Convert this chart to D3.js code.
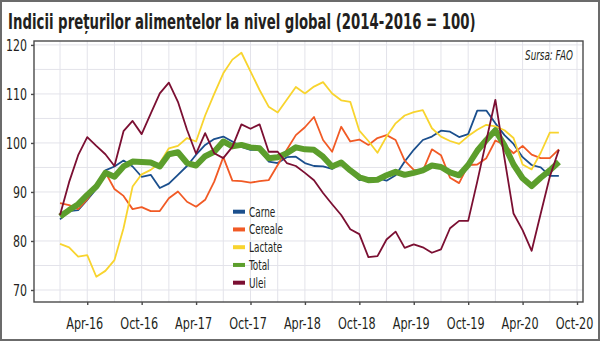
<!DOCTYPE html>
<html><head><meta charset="utf-8">
<script src="https://cdn.jsdelivr.net/npm/d3@7"></script>
<style>
html,body{margin:0;padding:0;background:#fff;}
svg{display:block;}
text{font-family:"Liberation Sans Narrow","DejaVu Sans Condensed","DejaVu Sans",sans-serif;fill:#231f20;}
</style></head>
<body>
<svg id="c" width="600" height="341"></svg>
<script>
// ---- data (monthly, Jan-16 .. Aug-20) ----
const seriesNames = ["Carne","Cereale","Lactate","Total","Ulei"];
const carne = [84.4,86.1,86.3,88.4,90.6,94.4,95.2,96.4,95.2,93.1,93.5,90.8,91.7,93.5,95.3,97.6,99.6,100.8,101.3,100.3,99.2,98.6,98.6,96.2,95.9,97.1,97.2,95.9,95.3,95.2,94.7,96.0,94.5,92.4,92.8,92.8,92.3,93.4,96.2,98.6,100.6,101.3,102.5,102.3,101.2,101.8,106.6,106.6,104.0,101.6,99.8,97.1,95.5,95.0,93.3,93.3];
const cereale = [87.7,87.3,86.5,88.5,91.0,94.0,90.6,89.2,86.5,86.9,86.1,86.1,88.7,90.1,88.0,87.0,88.4,92.1,97.1,92.3,92.2,91.9,92.2,92.4,95.5,98.6,101.6,103.2,105.3,100.6,98.2,103.3,100.3,100.7,99.6,101.0,101.6,100.6,96.4,94.5,94.3,98.7,97.5,92.9,91.8,95.5,95.6,96.9,100.5,99.6,97.9,99.4,97.6,96.9,96.9,98.7];
const lactate = [79.4,78.7,76.8,77.1,72.7,73.9,76.1,82.6,91.1,93.6,94.5,95.9,98.9,99.4,101.0,100.3,105.6,110.0,114.2,117.0,118.4,114.6,110.8,107.4,106.2,108.8,111.4,110.1,111.5,112.4,110.1,108.7,108.4,102.5,100.4,98.0,101.3,104.0,105.6,106.3,106.7,103.0,101.3,100.4,99.8,101.4,102.7,103.7,103.4,102.6,101.0,95.6,94.6,98.0,102.1,102.1];
const total = [85.0,86.3,87.5,89.4,91.1,93.9,93.1,95.2,96.2,96.1,96.0,95.2,97.7,98.1,95.9,95.4,97.3,98.2,100.3,99.3,99.6,99.1,98.9,96.9,97.1,97.9,99.1,98.7,98.6,97.2,95.2,96.0,94.4,93.0,92.4,92.5,93.4,94.1,93.5,93.9,94.4,95.4,95.1,94.0,93.4,95.5,98.4,100.6,102.6,99.5,95.6,92.8,91.2,92.9,94.4,96.1];
const ulei = [85.3,92.0,97.5,101.2,99.4,97.7,95.3,102.4,104.5,101.8,106.0,110.1,112.3,108.4,102.7,97.8,102.0,97.9,96.9,99.2,103.8,102.9,103.8,98.2,98.2,95.9,95.3,93.9,92.4,89.8,87.5,85.3,82.4,81.4,76.7,76.9,80.3,81.9,78.6,79.3,78.7,77.6,78.3,82.6,84.1,84.1,92.1,100.5,108.8,96.9,85.6,82.2,78.0,85.6,93.1,98.6];
const xTickLabels = ["Apr-16","Oct-16","Apr-17","Oct-17","Apr-18","Oct-18","Apr-19","Oct-19","Apr-20","Oct-20"];
const yTickValues = [70,80,90,100,110,120];
const title = "Indicii prețurilor alimentelor la nivel global (2014-2016 = 100)";
const source = "Sursa: FAO";

const colors = {Carne:"#1b4f8d",Cereale:"#f15a25",Lactate:"#f8d42e",Total:"#5c9e2c",Ulei:"#7b0f32"};
const widths = {Carne:1.8,Cereale:1.8,Lactate:1.8,Total:6,Ulei:1.8};
const dataBy = {Carne:carne,Cereale:cereale,Lactate:lactate,Total:total,Ulei:ulei};

const svg = d3.select("#c");
const L=34,R=583,T=41,B=302;
// month index 0 = Jan-16
const x = d3.scaleLinear().domain([-2.87,57.66]).range([L,R]);
const y = d3.scaleLinear().domain([67.55,120.8]).range([B,T]);

// horizontally condense a text selection to a target width (anchor kept)
function squeezeTo(sel, targetW){
  const w = sel.node().getComputedTextLength();
  const f = Math.min(1, targetW / w);
  squeeze(sel, f);
  return f;
}
function squeeze(sel, f){
  sel.each(function(){
    const t = d3.select(this);
    const x0 = +t.attr("x") || 0;
    t.attr("transform", `translate(${x0*(1-f)},0) scale(${f},1)`);
  });
}

// outer frame
svg.append("rect").attr("x",1).attr("y",1).attr("width",598).attr("height",339)
  .attr("fill","#fff").attr("stroke","#6b6b6b").attr("stroke-width",2);

// title
const tt = svg.append("text").attr("x",8).attr("y",29).attr("font-size",22).attr("font-weight","bold").text(title);
squeezeTo(tt, 468);

// grid
const g = svg.append("g");
g.selectAll(".vg").data(d3.range(0,58,3)).join("line")
  .attr("x1",d=>x(d)).attr("x2",d=>x(d)).attr("y1",T).attr("y2",B)
  .attr("stroke","#e3e3ea").attr("stroke-width",1);
g.selectAll(".hg").data(d3.range(70,121,5)).join("line")
  .attr("x1",L).attr("x2",R).attr("y1",d=>y(d)).attr("y2",d=>y(d))
  .attr("stroke","#e3e3ea").attr("stroke-width",1);

// lines
const line = d3.line().x((d,i)=>x(i)).y(d=>y(d)).curve(d3.curveLinear);
seriesNames.forEach(n=>{
  svg.append("path").datum(dataBy[n]).attr("d",line)
    .attr("fill","none").attr("stroke",colors[n]).attr("stroke-width",widths[n])
    .attr("stroke-linejoin","round").attr("stroke-linecap","butt");
});

// plot border
svg.append("rect").attr("x",L).attr("y",T).attr("width",R-L).attr("height",B-T)
  .attr("fill","none").attr("stroke","#4a4a4a").attr("stroke-width",1.4);

// axes
const yAx = svg.append("g").attr("transform",`translate(${L},0)`)
  .call(d3.axisLeft(y).tickValues(yTickValues).tickSize(3).tickPadding(4).tickFormat(d3.format("d")));
yAx.select(".domain").remove();
yAx.selectAll("line").attr("stroke","#4a4a4a").attr("stroke-width",1.4);
yAx.attr("font-family",null).attr("font-size",null);
const yTxt = yAx.selectAll("text").attr("font-size",16).attr("fill","#231f20");
squeeze(yTxt, 21/ yAx.selectAll("text").filter(d=>d===120).node().getComputedTextLength());

const xTickIdx = xTickLabels.map((d,k)=>3+6*k);
const xAx = svg.append("g").attr("transform",`translate(0,${B})`)
  .call(d3.axisBottom(x).tickValues(xTickIdx).tickSize(3).tickFormat((d,k)=>xTickLabels[k]));
xAx.select(".domain").remove();
xAx.attr("font-family",null).attr("font-size",null);
xAx.selectAll("line").attr("stroke","#4a4a4a").attr("stroke-width",1.4);
const xTxt = xAx.selectAll("text").attr("font-size",16.5).attr("fill","#231f20").attr("y",27).attr("dy",0).attr("x",-3);
squeeze(xTxt, 37 / xTxt.node().getComputedTextLength());

// legend
const lg = svg.append("g");
let lf = null;
seriesNames.forEach((n,k)=>{
  const cy = 211.7 + k*17.75;
  lg.append("rect").attr("x",233).attr("y",cy-2).attr("width",12).attr("height",4).attr("fill",colors[n]);
  const t = lg.append("text").attr("x",249).attr("y",cy+5).attr("font-size",14).text(n);
  if (n==="Cereale") lf = 34 / t.node().getComputedTextLength();
});
squeeze(lg.selectAll("text"), Math.min(1,lf));

// source
const st = svg.append("text").attr("x",573).attr("y",60).attr("text-anchor","end").attr("font-size",14)
  .attr("font-style","italic").text(source);
squeezeTo(st, 48);
</script>
</body></html>
